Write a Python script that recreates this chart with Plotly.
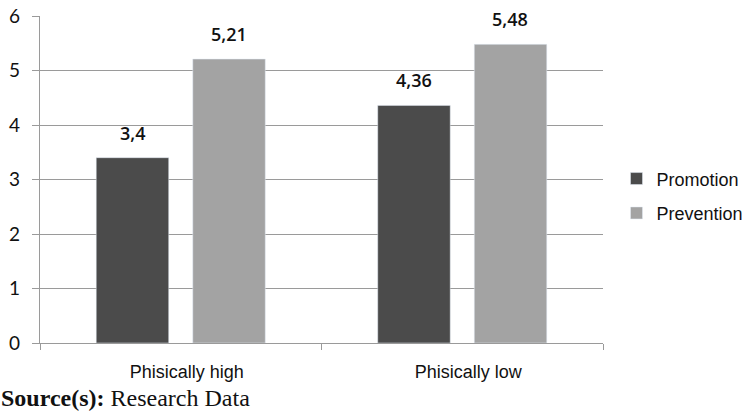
import plotly.graph_objects as go

# Regulatory focus scores by physical condition
categories = ["Phisically high", "Phisically low"]
promotion = [3.4, 4.36]
prevention = [5.21, 5.48]
series_names = ["Promotion", "Prevention"]
y_ticks = [0, 1, 2, 3, 4, 5, 6]

dark = "#4b4b4b"
light = "#a3a3a3"
grid = "#9a9a9a"

fig = go.Figure()
fig.add_trace(go.Bar(x=categories, y=promotion, name=series_names[0],
                     marker=dict(color=dark), legendgroup="a"))
fig.add_trace(go.Bar(x=categories, y=prevention, name=series_names[1],
                     marker=dict(color=light), legendgroup="b"))

# value labels above each bar, decimal comma
for i, series in enumerate([promotion, prevention]):
    for j, v in enumerate(series):
        fig.add_annotation(
            x=categories[j], y=v, xref="x", yref="y",
            text=str(v).replace(".", ","), showarrow=False,
            xshift=(-48 if i == 0 else 48), yanchor="bottom", yshift=11,
            font=dict(family="Open Sans", size=18, color="#111111", weight=600),
        )

fig.add_annotation(
    x=-0.073, y=-0.215, xref="paper", yref="paper", xanchor="left", yanchor="bottom",
    text="<b>Source(s):</b> Research Data", showarrow=False,
    font=dict(family="Liberation Serif", size=24, color="#111111"),
)

fig.update_layout(
    width=743, height=415,
    margin=dict(l=40, r=140, t=16, b=72, autoexpand=False),
    paper_bgcolor="white", plot_bgcolor="white",
    barmode="group", bargap=0.314, bargroupgap=0.249,
    showlegend=True,
    legend=dict(x=1.024, y=0.45, xanchor="left", yanchor="middle",
                traceorder="grouped", tracegroupgap=8,
                font=dict(family="Liberation Sans", size=18, color="#111111"),
                bgcolor="rgba(0,0,0,0)"),
    xaxis=dict(type="category", showline=True, linecolor=grid, linewidth=1.3,
               ticks="outside", tickson="boundaries", ticklen=6, tickcolor=grid,
               tickwidth=1.3, ticklabelstandoff=12, ticklabelshift=6,
               tickfont=dict(family="Liberation Sans", size=18, color="#111111"),
               showgrid=False),
    yaxis=dict(range=[0, 6], tickvals=y_ticks, showline=True, linecolor=grid,
               linewidth=1.3, ticks="outside", ticklen=7, tickcolor=grid, tickwidth=1.3,
               showgrid=True, gridcolor=grid, gridwidth=1.3, zeroline=False,
               ticklabelstandoff=8,
               tickfont=dict(family="Lato", size=19, color="#111111")),
)

fig.write_html("out.html")
